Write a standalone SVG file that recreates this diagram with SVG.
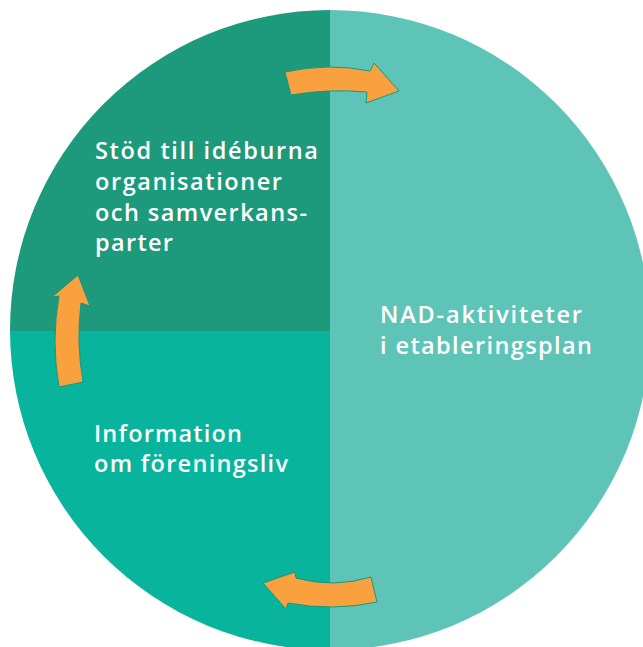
<svg xmlns="http://www.w3.org/2000/svg" width="643" height="647" viewBox="0 0 643 647">
<defs>
<style>
.lbl{font-family:"Open Sans","Noto Sans","Liberation Sans",sans-serif;font-weight:600;font-size:23.5px;fill:#ffffff}
.arr{fill:#F9A03F;stroke:#17987A;stroke-width:1;stroke-linejoin:miter}
</style>
<clipPath id="c"><circle cx="330" cy="330" r="320"/></clipPath>
</defs>
<rect width="643" height="647" fill="#ffffff"/>
<g clip-path="url(#c)">
<g id="node-stod"><rect x="0" y="0" width="330" height="331" fill="#1C9A7B"/></g>
<g id="node-info"><rect x="0" y="331" width="330" height="330" fill="#08B49C"/></g>
<g id="node-nad"><rect x="330" y="0" width="330" height="661" fill="#5FC4B8"/></g>
</g>
<g id="labels">
<text class="lbl" x="95" y="159" textLength="223" lengthAdjust="spacing">Stöd till idéburna</text>
<text class="lbl" x="95" y="190" textLength="187" lengthAdjust="spacing">organisationer</text>
<text class="lbl" x="95" y="221" textLength="212" lengthAdjust="spacing">och samverkans-</text>
<text class="lbl" x="95" y="251" textLength="78" lengthAdjust="spacing">parter</text>
<text class="lbl" x="380" y="323" textLength="202" lengthAdjust="spacing">NAD-aktiviteter</text>
<text class="lbl" x="380" y="354" textLength="212" lengthAdjust="spacing">i etableringsplan</text>
<text class="lbl" x="94" y="442" textLength="148" lengthAdjust="spacing">Information</text>
<text class="lbl" x="94" y="472" textLength="194" lengthAdjust="spacing">om föreningsliv</text>
</g>
<g id="connectors">
<path class="arr" d="M285,72 Q328,62.5 370,71 L374,63 L399,91 L366,103 L367,92 Q328,88.5 291,95 Z"/>
<path class="arr" d="M59,387 Q51,341 59,296 L52,297 L78,275 L90,306 L81,303 Q76,342 83,382 Z"/>
<path class="arr" d="M371,577 Q333,588.5 296,578 L295,572 L263,583 L286,609 L288,603 Q333,611.5 377,602 Z"/>
</g>
</svg>
